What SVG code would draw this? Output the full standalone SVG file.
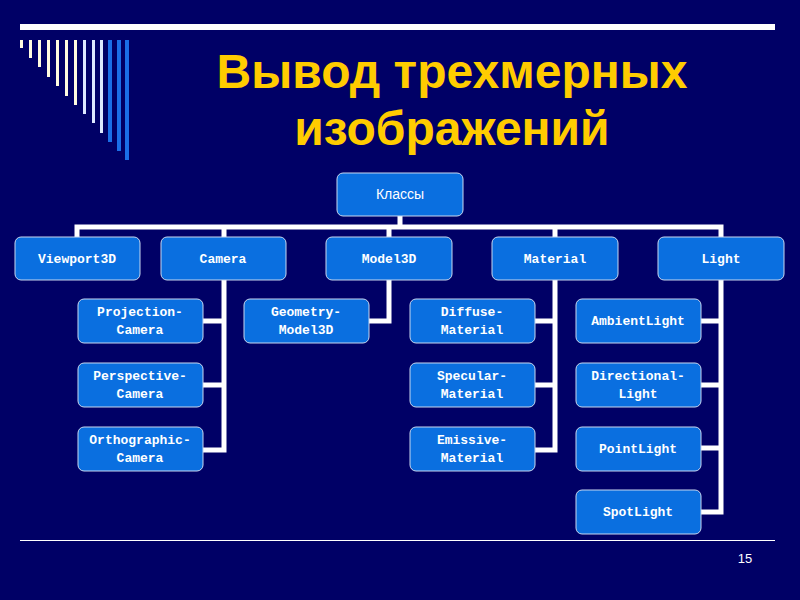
<svg xmlns="http://www.w3.org/2000/svg" width="800" height="600" viewBox="0 0 800 600">
<style>
.n{fill:#0A6FE0;stroke:#C8D8F0;stroke-width:1}
.t{font-family:"Liberation Mono",monospace;font-weight:bold;font-size:13px;fill:#fff;text-anchor:middle}
.c{stroke:#fff;stroke-width:5;fill:none}
</style>
<rect width="800" height="600" fill="#000066"/>
<rect x="20" y="24" width="755" height="6" fill="#fff"/>
<g>
<rect x="20" y="40" width="3" height="8" fill="#FFFBE0"/>
<rect x="29" y="40" width="3" height="18" fill="#FFFBE0"/>
<rect x="38" y="40" width="3" height="27" fill="#FFFBE0"/>
<rect x="47" y="40" width="3" height="37" fill="#FFFBE0"/>
<rect x="56" y="40" width="3" height="46" fill="#FFFBE0"/>
<rect x="65" y="40" width="3" height="56" fill="#FFFBE0"/>
<rect x="74" y="40" width="3" height="65" fill="#FFFBE0"/>
<rect x="83" y="40" width="3" height="74" fill="#DDE8FF"/>
<rect x="92" y="40" width="3" height="83" fill="#DDE8FF"/>
<rect x="100" y="40" width="3" height="93" fill="#DDE8FF"/>
<rect x="108" y="40" width="4" height="102" fill="#1A6FE8"/>
<rect x="117" y="40" width="4" height="111" fill="#1A6FE8"/>
<rect x="125" y="40" width="4" height="120" fill="#1A6FE8"/>
</g>
<text x="452" y="88" font-family="Liberation Sans,Arial,sans-serif" font-weight="bold" font-size="48" fill="#FFCC00" text-anchor="middle">Вывод трехмерных</text>
<text x="452" y="145" font-family="Liberation Sans,Arial,sans-serif" font-weight="bold" font-size="48" fill="#FFCC00" text-anchor="middle">изображений</text>
<g id="connectors" class="c">
<path d="M400 215V227M77 237V227H721V237M224 227V237M389 227V237M555 227V237"/>
<path d="M224 280V450H203M224 321H203M224 385H203"/>
<path d="M389 280V321H369"/>
<path d="M555 280V450H535M555 321H535M555 385H535"/>
<path d="M721 280V512H701M721 321H701M721 385H701M721 448H701"/>
</g>
<g id="klassy"><rect class="n" x="337" y="173" width="126" height="43" rx="6"/><text x="400" y="199" font-family="Liberation Sans,Arial,sans-serif" font-size="14" fill="#fff" text-anchor="middle">Классы</text></g>
<g id="viewport3d"><rect class="n" x="15" y="237" width="125" height="43" rx="6"/><text class="t" x="77" y="263">Viewport3D</text></g>
<g id="camera"><rect class="n" x="161" y="237" width="125" height="43" rx="6"/><text class="t" x="223" y="263">Camera</text></g>
<g id="model3d"><rect class="n" x="326" y="237" width="126" height="43" rx="6"/><text class="t" x="389" y="263">Model3D</text></g>
<g id="material"><rect class="n" x="492" y="237" width="126" height="43" rx="6"/><text class="t" x="555" y="263">Material</text></g>
<g id="light"><rect class="n" x="658" y="237" width="126" height="43" rx="6"/><text class="t" x="721" y="263">Light</text></g>
<g id="projection"><rect class="n" x="78" y="299" width="125" height="44" rx="6"/><text class="t" x="140" y="316">Projection-</text><text class="t" x="140" y="334">Camera</text></g>
<g id="perspective"><rect class="n" x="78" y="363" width="125" height="44" rx="6"/><text class="t" x="140" y="380">Perspective-</text><text class="t" x="140" y="398">Camera</text></g>
<g id="orthographic"><rect class="n" x="78" y="427" width="125" height="44" rx="6"/><text class="t" x="140" y="444">Orthographic-</text><text class="t" x="140" y="462">Camera</text></g>
<g id="geometry"><rect class="n" x="244" y="299" width="125" height="44" rx="6"/><text class="t" x="306" y="316">Geometry-</text><text class="t" x="306" y="334">Model3D</text></g>
<g id="diffuse"><rect class="n" x="410" y="299" width="125" height="44" rx="6"/><text class="t" x="472" y="316">Diffuse-</text><text class="t" x="472" y="334">Material</text></g>
<g id="specular"><rect class="n" x="410" y="363" width="125" height="44" rx="6"/><text class="t" x="472" y="380">Specular-</text><text class="t" x="472" y="398">Material</text></g>
<g id="emissive"><rect class="n" x="410" y="427" width="125" height="44" rx="6"/><text class="t" x="472" y="444">Emissive-</text><text class="t" x="472" y="462">Material</text></g>
<g id="ambient"><rect class="n" x="576" y="299" width="125" height="44" rx="6"/><text class="t" x="638" y="325">AmbientLight</text></g>
<g id="directional"><rect class="n" x="576" y="363" width="125" height="44" rx="6"/><text class="t" x="638" y="380">Directional-</text><text class="t" x="638" y="398">Light</text></g>
<g id="point"><rect class="n" x="576" y="427" width="125" height="44" rx="6"/><text class="t" x="638" y="453">PointLight</text></g>
<g id="spot"><rect class="n" x="576" y="490" width="125" height="44" rx="6"/><text class="t" x="638" y="516">SpotLight</text></g>
<rect x="20" y="540" width="755" height="1" fill="#fff"/>
<text x="745" y="563" font-family="Liberation Sans,Arial,sans-serif" font-size="13" fill="#fff" text-anchor="middle">15</text>
</svg>
